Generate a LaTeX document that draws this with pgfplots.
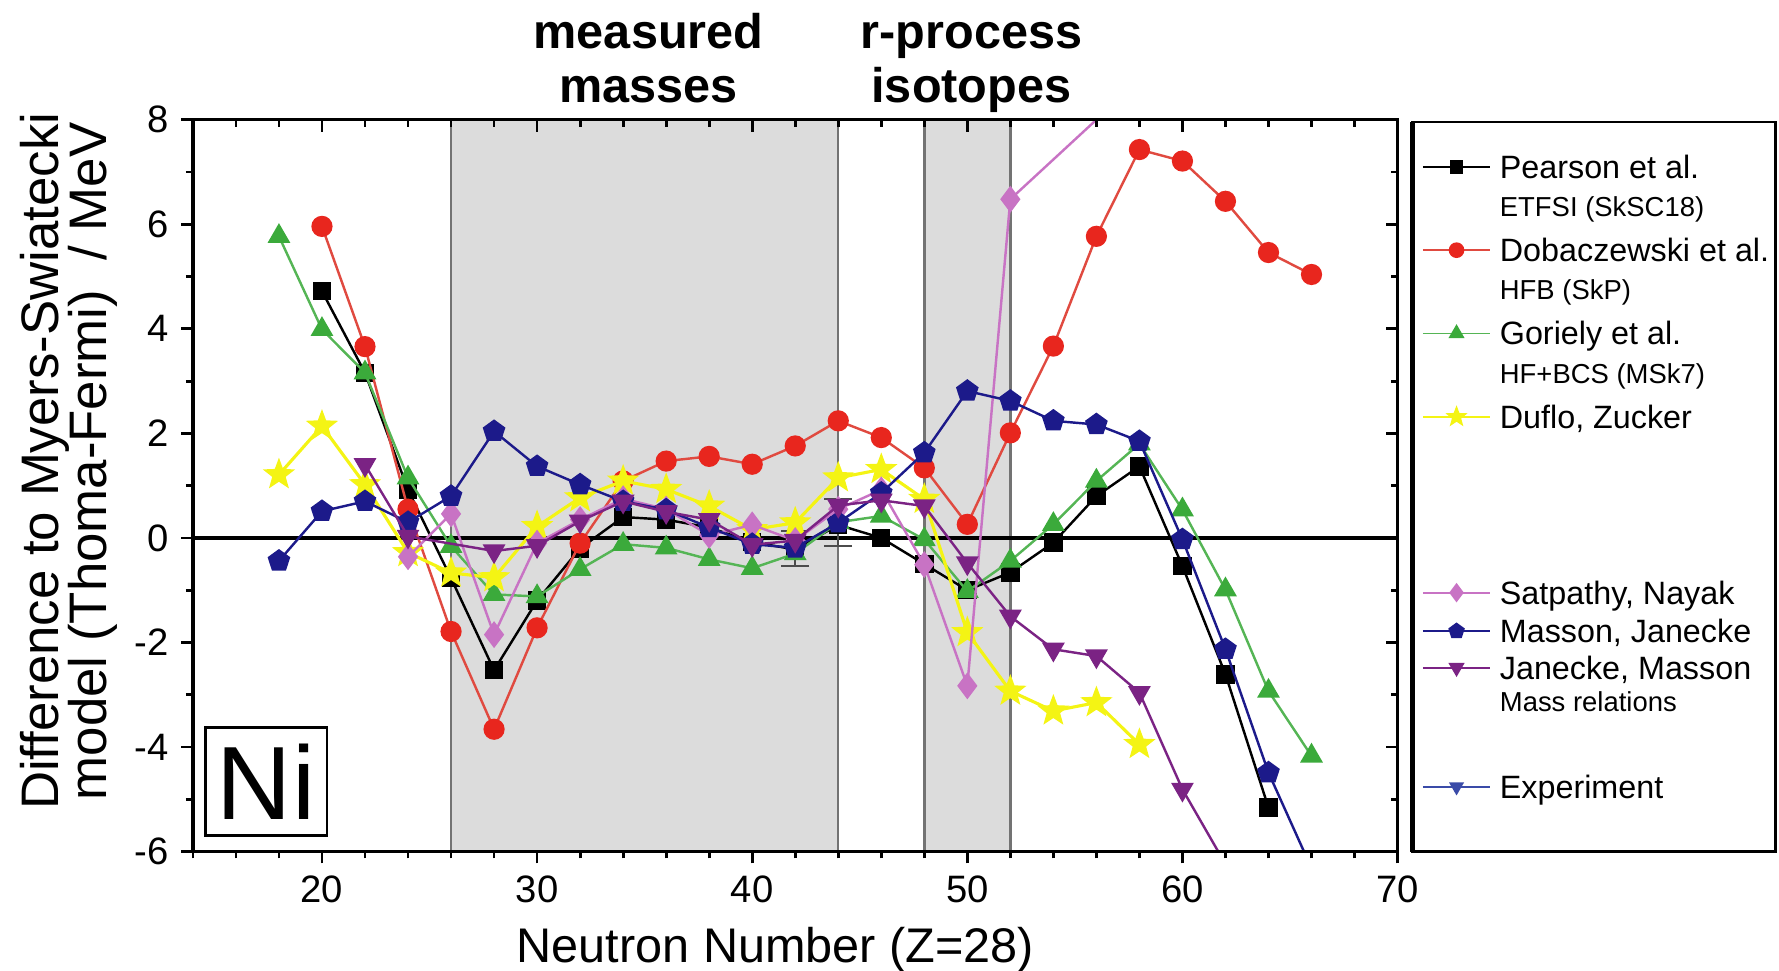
\documentclass[border=0pt]{standalone}
\usepackage{fontspec}
\setmainfont{Liberation Sans}
\usepackage{pgfplots}
\pgfplotsset{compat=1.18}

\definecolor{cDob}{HTML}{E8261E}
\definecolor{cDobL}{HTML}{E04A40}
\definecolor{cGor}{HTML}{3BAA3B}
\definecolor{cGorL}{HTML}{55B555}
\definecolor{cDuf}{HTML}{F4F414}
\definecolor{cSat}{HTML}{C873C4}
\definecolor{cMas}{HTML}{1C1A8A}
\definecolor{cJan}{HTML}{7B2384}
\definecolor{cExp}{HTML}{3A4BA8}
\definecolor{cShade}{HTML}{DCDCDC}

\pgfdeclareplotmark{fstar}{%
  \pgfpathmoveto{\pgfpointpolar{90}{1.2\pgfplotmarksize}}%
  \pgfpathlineto{\pgfpointpolar{126}{0.5\pgfplotmarksize}}%
  \pgfpathlineto{\pgfpointpolar{162}{1.2\pgfplotmarksize}}%
  \pgfpathlineto{\pgfpointpolar{198}{0.5\pgfplotmarksize}}%
  \pgfpathlineto{\pgfpointpolar{234}{1.2\pgfplotmarksize}}%
  \pgfpathlineto{\pgfpointpolar{270}{0.5\pgfplotmarksize}}%
  \pgfpathlineto{\pgfpointpolar{306}{1.2\pgfplotmarksize}}%
  \pgfpathlineto{\pgfpointpolar{342}{0.5\pgfplotmarksize}}%
  \pgfpathlineto{\pgfpointpolar{18}{1.2\pgfplotmarksize}}%
  \pgfpathlineto{\pgfpointpolar{54}{0.5\pgfplotmarksize}}%
  \pgfpathclose\pgfusepathqfillstroke}

\pgfplotsset{
  sPear/.style={black, line width=0.7pt, mark=square*, mark size=2.3pt, mark options={solid, fill=black}},
  sDob/.style={cDobL, line width=0.7pt, mark=*, mark size=2.7pt, mark options={solid, draw=cDob, fill=cDob}},
  sGor/.style={cGorL, line width=0.7pt, mark=triangle*, mark size=3.1pt, mark options={solid, draw=cGor, fill=cGor}},
  sDuf/.style={cDuf, line width=0.9pt, mark=fstar, mark size=3pt, mark options={solid, fill=cDuf}},
  sSat/.style={cSat, line width=0.7pt, mark=diamond*, mark size=3.3pt, mark options={solid, fill=cSat}},
  sMas/.style={cMas, line width=0.7pt, mark=pentagon*, mark size=3pt, mark options={solid, fill=cMas}},
  sJan/.style={cJan, line width=0.7pt, mark=triangle*, mark size=3.1pt, mark options={solid, fill=cJan, rotate=180}},
  sExp/.style={cExp, line width=0.6pt, mark=triangle*, mark size=2.2pt, mark options={solid, fill=cExp, rotate=180}},
  frame/.style={scale only axis, width=12.19cm, height=7.405cm, at={(0,0)}, anchor=south west,
    xmin=14, xmax=70, ymin=-6, ymax=8,
    xtick={10,20,...,70}, minor x tick num=4,
    ytick={-6,-4,...,8}, minor y tick num=1,
    major tick length=0.12cm, minor tick length=0.07cm,
    axis line style={line width=1pt},
    every tick/.style={black, line width=0.8pt}},
}

\newcommand{\lgA}[2]{\rule[-16pt]{0pt}{24pt}\vtop{\baselineskip=11pt\hbox{#1}\hbox{\fontsize{7.9}{9}\selectfont #2}}}

\begin{document}
\begin{tikzpicture}
\useasboundingbox (-1.952,-1.205) rectangle (16.05,8.617);
\begin{axis}[frame, name=main,
  tick pos=left, tick align=outside,
  yticklabels={-6,-4,-2,0,2,4,6,8},
  ticklabel style={font=\fontsize{11}{13}\selectfont},
  /pgf/number format/assume math mode=true,
  clip marker paths=true]
\fill[cShade] (axis cs:26,-6) rectangle (axis cs:44,8);
\fill[cShade] (axis cs:48,-6) rectangle (axis cs:52,8);
\draw[black!55, line width=0.7pt] (axis cs:26,-6) -- (axis cs:26,8);
\draw[black!55, line width=0.7pt] (axis cs:44,-6) -- (axis cs:44,8);
\draw[black!55, line width=0.7pt] (axis cs:48,-6) -- (axis cs:48,8);
\draw[black!55, line width=0.7pt] (axis cs:52,-6) -- (axis cs:52,8);
\draw[black, line width=1pt] (axis cs:14,0) -- (axis cs:70,0);
\draw[black, line width=0.8pt] (axis cs:14.58,-3.63) rectangle (axis cs:20.23,-5.70);
\node[font=\fontsize{30}{32}\selectfont] at (axis cs:17.4,-4.67) {Ni};

% Experiment
\addplot[sExp, error bars/.cd, y dir=both, y explicit,
  error bar style={black!70, line width=0.6pt},
  error mark options={rotate=90, mark size=4pt, black!70, line width=0.6pt}]
  coordinates {(42,-0.2) +- (0,0.34) (44,0.29) +- (0,0.45)};
% Pearson et al. ETFSI
\addplot[sPear] coordinates {
(20,4.72) (22,3.16) (24,0.92) (26,-0.77) (28,-2.53) (30,-1.20) (32,-0.20) (34,0.40)
(36,0.35) (38,0.20) (40,-0.08) (42,-0.22) (44,0.25) (46,0.00) (48,-0.50) (50,-1.00)
(52,-0.66) (54,-0.09) (56,0.80) (58,1.37) (60,-0.54) (62,-2.61) (64,-5.16)};
% Dobaczewski et al. HFB
\addplot[sDob] coordinates {
(20,5.96) (22,3.66) (24,0.55) (26,-1.79) (28,-3.66) (30,-1.72) (32,-0.10) (34,1.09)
(36,1.47) (38,1.56) (40,1.41) (42,1.76) (44,2.24) (46,1.92) (48,1.34) (50,0.26)
(52,2.01) (54,3.67) (56,5.77) (58,7.43) (60,7.21) (62,6.44) (64,5.46) (66,5.04)};
% Goriely et al. HF+BCS
\addplot[sGor] coordinates {
(18,5.77) (20,3.99) (22,3.16) (24,1.15) (26,-0.16) (28,-1.08) (30,-1.12) (32,-0.60)
(34,-0.12) (36,-0.19) (38,-0.41) (40,-0.58) (42,-0.30) (44,0.30) (46,0.42) (48,-0.03)
(50,-1.02) (52,-0.44) (54,0.26) (56,1.09) (58,1.80) (60,0.54) (62,-0.99) (64,-2.93) (66,-4.17)};
% Duflo, Zucker
\addplot[sDuf] coordinates {
(18,1.21) (20,2.14) (22,1.02) (24,-0.28) (26,-0.67) (28,-0.76) (30,0.22) (32,0.77)
(34,1.09) (36,0.93) (38,0.61) (40,0.16) (42,0.29) (44,1.15) (46,1.31) (48,0.74)
(50,-1.81) (52,-2.93) (54,-3.31) (56,-3.15) (58,-3.95)};
% Satpathy, Nayak
\addplot[sSat] coordinates {
(24,-0.36) (26,0.46) (28,-1.85) (30,-0.10) (32,0.35) (34,0.75) (36,0.55) (38,0.05)
(40,0.25) (42,-0.05) (44,0.55) (46,0.92) (48,-0.51) (50,-2.83) (52,6.48) (58,8.76)};
% Masson, Janecke
\addplot[sMas] coordinates {
(18,-0.44) (20,0.51) (22,0.70) (24,0.30) (26,0.80) (28,2.04) (30,1.37) (32,1.02)
(34,0.70) (36,0.54) (38,0.20) (40,-0.12) (42,-0.19) (44,0.29) (46,0.86) (48,1.63)
(50,2.81) (52,2.62) (54,2.24) (56,2.17) (58,1.85) (60,-0.03) (62,-2.13) (64,-4.49) (66,-6.32)};
% Janecke, Masson
\addplot[sJan] coordinates {
(22,1.40) (24,0.03) (28,-0.25) (30,-0.15) (32,0.32) (34,0.70) (36,0.50) (38,0.35)
(40,-0.13) (42,-0.05) (44,0.62) (46,0.72) (48,0.61) (50,-0.48) (52,-1.50) (54,-2.13)
(56,-2.26) (58,-2.96) (60,-4.81) (62,-6.24)};
\end{axis}

\begin{axis}[frame,
  tick pos=right, tick align=inside,
  xticklabels={}, yticklabels={},
  legend style={at={(1,1)}, anchor=north west, xshift=0.241cm, yshift=-0.304cm,
    draw=none, fill=none, inner sep=0pt, row sep=0pt, column sep=0.09cm,
    nodes={inner sep=0pt, anchor=base west, text depth=, text height=},
    font=\fontsize{9.3}{11}\selectfont},
  legend cell align=left,
  legend image post style={yshift=3.3pt},
  legend image code/.code={\draw[mark repeat=2,mark phase=2,#1] plot coordinates {(0cm,0cm) (0.34cm,0cm) (0.68cm,0cm)};}]
\addlegendimage{sPear, mark size=1.7pt, line width=0.5pt}
\addlegendentry{\lgA{Pearson et al.}{ETFSI (SkSC18)}}
\addlegendimage{sDob, mark size=2pt, line width=0.5pt}
\addlegendentry{\lgA{Dobaczewski et al.}{HFB (SkP)}}
\addlegendimage{sGor, mark size=2.2pt, line width=0.5pt}
\addlegendentry{\lgA{Goriely et al.}{HF+BCS (MSk7)}}
\addlegendimage{sDuf, mark size=2.2pt, line width=0.5pt}
\addlegendentry{\rule[-5pt]{0pt}{13pt}Duflo, Zucker}
\addlegendimage{sSat, mark size=2.4pt, line width=0.5pt}
\addlegendentry{\rule[-3.5pt]{0pt}{49.1pt}Satpathy, Nayak}
\addlegendimage{sMas, mark size=2.2pt, line width=0.5pt}
\addlegendentry{\rule[-3.5pt]{0pt}{11.1pt}Masson, Janecke}
\addlegendimage{sJan, mark size=2.2pt, line width=0.5pt}
\addlegendentry{\rule[-26.3pt]{0pt}{33.3pt}\vtop{\baselineskip=9.4pt\hbox{Janecke, Masson}\hbox{\fontsize{7.9}{9}\selectfont Mass relations}}}
\addlegendimage{sExp, mark size=2pt, line width=0.5pt}
\addlegendentry{\rule[-5pt]{0pt}{13pt}Experiment}
\end{axis}

% legend frame
\draw[line width=0.7pt] ([xshift=0.149cm,yshift=-0.02cm]main.north east) rectangle ([xshift=3.823cm]main.south east);
\draw[line width=1.6pt] ([xshift=0.149cm,yshift=-0.02cm]main.north east) -- ([xshift=0.149cm]main.south east);

% region labels
\node[anchor=base, font=\bfseries\fontsize{14}{16}\selectfont] at (4.611,8.128) {measured};
\node[anchor=base, font=\bfseries\fontsize{14}{16}\selectfont] at (4.611,7.577) {masses};
\node[anchor=base, font=\bfseries\fontsize{14}{16}\selectfont] at (7.878,8.128) {r-process};
\node[anchor=base, font=\bfseries\fontsize{14}{16}\selectfont] at (7.878,7.577) {isotopes};

% axis labels
\node[anchor=base, rotate=90, font=\fontsize{15.2}{17}\selectfont] at (-1.36,3.949) {Difference to Myers-Swiatecki};
\node[anchor=base, rotate=90, font=\fontsize{15.2}{17}\selectfont] at (-0.87,3.949) {model (Thoma-Fermi)\ \ / MeV};
\node[anchor=base, font=\fontsize{14}{16}\selectfont] at (5.895,-1.125) {Neutron Number (Z=28)};
\end{tikzpicture}
\end{document}
